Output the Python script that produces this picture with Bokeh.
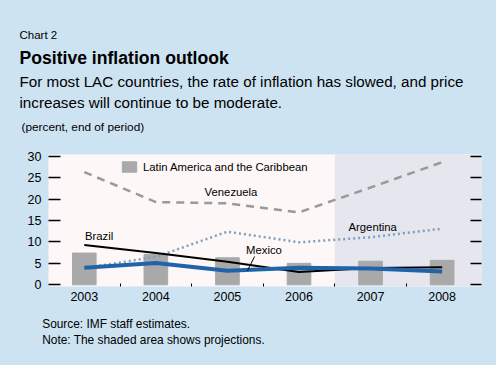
from bokeh.plotting import figure
from bokeh.layouts import column
from bokeh.models import (Range1d, FixedTicker, LinearAxis, BoxAnnotation, Label,
                          Legend, LegendItem, CustomJSTickFormatter, Arrow)
from bokeh.models import GlobalInlineStyleSheet
from bokeh.embed import file_html
from bokeh.resources import INLINE

years = [2003, 2004, 2005, 2006, 2007, 2008]
lac = [7.4, 7.1, 6.3, 5.0, 5.5, 5.7]
venezuela = [26.3, 19.3, 19.0, 16.9, 22.7, 28.6]
argentina = [3.9, 6.5, 12.4, 9.9, 11.1, 13.1]
brazil = [9.3, 7.4, 5.4, 3.0, 3.9, 4.1]
mexico = [4.0, 5.1, 3.3, 4.0, 3.8, 3.1]
y_ticks = [0, 5, 10, 15, 20, 25, 30]
projection_start = 2006.5

BG = "#cde3f2"
FONT = "Liberation Sans"

W = 496
HEAD_H, CHART_H, FOOT_H = 145, 170, 50   # stacked page bands: 0-145, 145-315, 315-365
FL, FR, FT, FB = 48, 481, 154, 286       # chart frame edges in page pixels


def text_panel(y0, h):
    """A full-canvas frame whose data coordinates equal page pixels."""
    f = figure(width=W, height=h, output_backend="svg", toolbar_location=None,
               x_range=Range1d(0, W), y_range=Range1d(y0 + h, y0),
               x_axis_type=None, y_axis_type=None, min_border=0,
               min_border_left=0, min_border_right=0, min_border_top=0, min_border_bottom=0,
               frame_align=False,
               background_fill_color=BG, border_fill_color=BG, outline_line_color=None)
    f.grid.visible = False
    return f


def put(f, text, px, py, size, style="normal"):
    f.add_layout(Label(x=px, y=py, text=text, text_font=FONT, text_font_size=size,
                       text_font_style=style, text_baseline="alphabetic",
                       text_align="left", text_color="black"))


# ---- header
head = text_panel(0, HEAD_H)
put(head, "Chart 2", 19, 34.3, "11.5px")
put(head, "Positive inflation outlook", 19, 57.3, "17.6px", "bold")
put(head, "For most LAC countries, the rate of inflation has slowed, and price", 19, 81, "15.2px")
put(head, "increases will continue to be moderate.", 19, 102.3, "15.2px")
put(head, "(percent, end of period)", 21, 126.7, "11.8px")

# ---- chart
p = figure(width=W, height=CHART_H, output_backend="svg", toolbar_location=None,
           x_range=Range1d(2002.5, 2008.55), y_range=Range1d(-0.4, 30.4),
           min_border_left=FL, min_border_right=W - FR,
           min_border_top=FT - HEAD_H, min_border_bottom=HEAD_H + CHART_H - FB,
           frame_align=False,
           background_fill_color="#fdf7f7", border_fill_color=BG, outline_line_color=None)
p.xgrid.visible = False
p.ygrid.visible = False

xa = p.xaxis[0]
xa.ticker = FixedTicker(ticks=years, minor_ticks=[y + 0.5 for y in years[:-1]])
xa.axis_line_color = None
xa.major_tick_in = 0
xa.major_tick_out = 0
xa.minor_tick_in = 3
xa.minor_tick_out = 0
xa.minor_tick_line_color = "black"
xa.major_label_standoff = 5
xa.major_label_text_font = FONT
xa.major_label_text_font_size = "12.5px"
xa.major_label_text_color = "black"

ya = p.yaxis[0]
ya.ticker = FixedTicker(ticks=y_ticks)
ya.axis_line_color = None
ya.major_tick_in = 12
ya.major_tick_out = 0
ya.minor_tick_line_color = None
ya.major_tick_line_width = 1.5
ya.major_label_standoff = 7
ya.major_label_text_font = FONT
ya.major_label_text_font_size = "12.5px"
ya.major_label_text_color = "black"

ra = LinearAxis(ticker=FixedTicker(ticks=y_ticks),
                formatter=CustomJSTickFormatter(code="return ''"))
ra.axis_line_color = None
ra.major_tick_in = 11
ra.major_tick_out = 0
ra.major_tick_line_width = 1.5
ra.minor_tick_line_color = None
ra.major_label_standoff = 0
p.add_layout(ra, "right")

p.add_layout(BoxAnnotation(left=projection_start, fill_color="#e6e6ee", fill_alpha=1,
                           line_color=None, level="underlay"))

bars = p.vbar(x=years, top=lac, width=0.33, color="#a9a9a9")
p.line(years, venezuela, line_color="#9a9a9a", line_width=2.5, line_dash="8 6")
p.line(years, argentina, line_color="#7d9fc0", line_width=2.5, line_dash="2 3")
p.line(years, brazil, line_color="black", line_width=2)
p.line(years, mexico, line_color="#2063a8", line_width=4)

legend = Legend(items=[LegendItem(label="Latin America and the Caribbean", renderers=[bars])],
                location=(120 - FL, FB - 173), padding=0, margin=0, border_line_color=None,
                background_fill_alpha=0, glyph_width=18, glyph_height=13, label_height=13,
                label_standoff=5, label_text_font=FONT, label_text_font_size="11.3px",
                label_text_baseline="middle", label_text_color="black")
p.add_layout(legend, "center")


def series_label(text, x, y, align="left"):
    p.add_layout(Label(x=x, y=y, text=text, text_font=FONT, text_font_size="11.3px",
                       text_align=align, text_baseline="middle", text_color="black"))


series_label("Venezuela", 2005.05, 21.6, "center")
series_label("Argentina", 2007.03, 13.4, "center")
series_label("Brazil", 2003.01, 11.3)
series_label("Mexico", 2005.26, 8.2)
p.add_layout(Arrow(x_start=2005.38, y_start=6.6, x_end=2005.28, y_end=3.3,
                   line_color="black", line_width=1, end=None))

# ---- footer
foot = text_panel(HEAD_H + CHART_H, FOOT_H)
put(foot, "Source: IMF staff estimates.", 41.7, 323.3, "11.9px")
put(foot, "Note: The shaded area shows projections.", 41.7, 339.3, "11.9px")

layout = column(head, p, foot, spacing=0,
                stylesheets=[GlobalInlineStyleSheet(
                    css="html, body {margin: 0; padding: 0; background-color: %s;}" % BG)])

open("out.html", "w").write(file_html(layout, INLINE))
